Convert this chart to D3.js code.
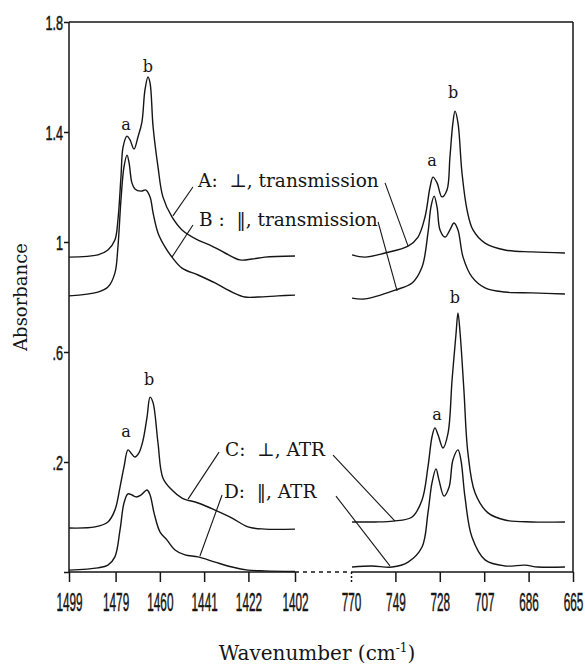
<!DOCTYPE html>
<html>
<head>
<meta charset="utf-8">
<script src="https://cdn.jsdelivr.net/npm/d3@7"></script>
<style>
  html, body { margin: 0; padding: 0; background: #fff; }
  svg { display: block; }
  text { white-space: pre; }
</style>
</head>
<body>
<svg id="chart" width="585" height="671"></svg>
<script>
// IR absorbance spectra, CH2 scissoring (left) and rocking (right) regions
const yTicks = [1.8, 1.4, 1.0, 0.6, 0.2, -0.2];
const yTickLabels = ["1.8", "1.4", "1", ".6", ".2", ""];
const leftTicks = [1499, 1479, 1460, 1441, 1422, 1402];
const rightTicks = [770, 749, 728, 707, 686, 665];

// [wavenumber, absorbance]
const specA_left = [[1499,0.945],[1486.6,0.953],[1482.3,0.971],[1479.3,1.007],[1478.0,1.08],[1476.7,1.236],[1475.8,1.345],[1474.1,1.385],[1472.8,1.371],[1471.1,1.338],[1469.4,1.382],[1467.7,1.436],[1466.4,1.553],[1465.1,1.6],[1464.2,1.578],[1462.9,1.418],[1460.8,1.273],[1458.7,1.164],[1454.8,1.091],[1450.5,1.044],[1443.6,1.007],[1438.5,0.989],[1432.0,0.96],[1425.6,0.935],[1420.5,0.938],[1414.9,0.945],[1402,0.949]];
const specB_left = [[1499,0.804],[1486.6,0.818],[1482.3,0.836],[1479.3,0.887],[1478.0,0.982],[1476.7,1.153],[1475.4,1.273],[1474.1,1.316],[1473.2,1.287],[1472.0,1.215],[1470.7,1.193],[1468.1,1.185],[1466.0,1.189],[1464.2,1.164],[1462.9,1.105],[1460.8,1.033],[1457.8,0.982],[1454.8,0.945],[1450.5,0.905],[1443.6,0.88],[1436.3,0.851],[1429.0,0.818],[1423.5,0.8],[1417.9,0.8],[1409.3,0.804],[1402,0.807]];
const specC_left = [[1499,-0.04],[1487.8,-0.036],[1482.3,-0.018],[1479.3,0.025],[1477.1,0.109],[1475.4,0.182],[1473.7,0.244],[1472.4,0.233],[1470.7,0.218],[1469.0,0.233],[1467.2,0.28],[1465.5,0.364],[1464.2,0.436],[1462.9,0.415],[1460.8,0.269],[1458.7,0.142],[1454.8,0.098],[1450.5,0.069],[1443.6,0.051],[1436.3,0.025],[1429.0,-0.004],[1422.2,-0.036],[1414.9,-0.044],[1402,-0.044]];
const specD_left = [[1499,-0.193],[1486.6,-0.185],[1482.3,-0.175],[1479.3,-0.145],[1477.1,-0.047],[1475.4,0.051],[1473.7,0.084],[1472.0,0.08],[1470.2,0.073],[1468.1,0.08],[1465.5,0.098],[1464.2,0.08],[1462.5,0.015],[1459.9,-0.055],[1456.9,-0.084],[1453.5,-0.12],[1449.2,-0.138],[1443.6,-0.145],[1436.3,-0.164],[1429.0,-0.182],[1422.2,-0.193],[1414.9,-0.196],[1402,-0.198]];

const specA_right = [[769.5,0.953],[763.4,0.945],[753.9,0.96],[743.0,0.985],[738.3,1.018],[735.0,1.091],[732.6,1.2],[731.2,1.236],[729.3,1.215],[727.0,1.164],[724.6,1.189],[723.2,1.309],[721.8,1.433],[720.8,1.476],[719.4,1.433],[717.5,1.251],[715.1,1.116],[712.3,1.044],[706.6,0.996],[697.2,0.971],[684.4,0.964],[668.8,0.96]];
const specB_right = [[769.5,0.796],[763.4,0.793],[749.2,0.825],[741.1,0.851],[736.4,0.909],[733.6,1.033],[732.2,1.127],[730.7,1.167],[729.3,1.127],[727.9,1.044],[725.5,1.018],[723.2,1.044],[721.3,1.069],[719.4,1.044],[717.0,0.945],[712.8,0.873],[706.6,0.833],[697.2,0.818],[684.4,0.815],[668.8,0.811]];
const specC_right = [[769.5,-0.018],[758.6,-0.018],[750.1,-0.015],[741.1,0.0],[736.4,0.062],[733.6,0.182],[731.7,0.291],[730.3,0.324],[728.8,0.298],[726.5,0.251],[724.1,0.305],[722.2,0.498],[720.3,0.669],[719.4,0.742],[718.4,0.669],[716.6,0.462],[714.7,0.233],[711.3,0.087],[705.2,0.015],[697.2,-0.011],[684.4,-0.018],[668.8,-0.018]];
const specD_right = [[769.5,-0.182],[760.1,-0.178],[750.6,-0.182],[743.0,-0.164],[736.4,-0.109],[733.6,0.015],[731.7,0.124],[729.8,0.175],[728.4,0.135],[726.0,0.076],[723.6,0.109],[721.8,0.207],[719.4,0.244],[718.0,0.207],[716.1,0.073],[712.8,-0.073],[706.6,-0.156],[697.2,-0.178],[687.7,-0.175],[681.6,-0.182],[668.8,-0.182]];

// peak markers: [panel, wavenumber, absorbance, letter, dx, dy]
const peakMarks = [
  ["L", 1474.1, 1.385, "a", -1, -6],
  ["L", 1465.1, 1.6,   "b",  0, -5],
  ["R", 731.2,  1.236, "a", -1, -11],
  ["R", 720.8,  1.476, "b", -2, -13],
  ["L", 1473.7, 0.244, "a", -2, -13],
  ["L", 1464.2, 0.436, "b", -1, -12],
  ["R", 730.3,  0.324, "a",  2, -8],
  ["R", 719.4,  0.742, "b", -3, -10]
];

// series captions: [text, panel, wavenumber, absorbance]
const captions = [
  ["A:  \u22A5, transmission", "L", 1443.6, 1.2],
  ["B :  \u2016, transmission", "L", 1443.2, 1.058],
  ["C:  \u22A5, ATR", "L", 1432.0, 0.222],
  ["D:  \u2016, ATR", "L", 1432.5, 0.069]
];

// leader lines: [panel, wn1, abs1, wn2, abs2]
const leaders = [
  ["L", 1445.8, 1.2,   1454.4, 1.095],
  ["R", 753.9,  1.215, 743.0,  0.985],
  ["L", 1445.8, 1.062, 1454.8, 0.945],
  ["R", 757.2,  1.073, 748.2,  0.822],
  ["L", 1434.6, 0.236, 1447.9, 0.065],
  ["R", 778.5,  0.225, 749.2, -0.015],
  ["L", 1433.3, 0.08,  1442.8, -0.142],
  ["R", 777.1,  0.076, 751.6, -0.178]
];

const svg = d3.select("#chart");
const ink = "#151515";

const xL = d3.scaleLinear().domain([1499, 1402]).range([69, 295]);
const xR = d3.scaleLinear().domain([770, 665]).range([351, 573]);
const y = d3.scaleLinear().domain([-0.2, 1.8]).range([572, 22]);
const xOf = p => (p === "L" ? xL : xR);

// frame
const frame = svg.append("g").attr("stroke", ink).attr("stroke-width", 1.5).attr("fill", "none");
frame.append("line").attr("x1", xL(1499)).attr("x2", xL(1499)).attr("y1", y(1.8)).attr("y2", y(-0.2));
frame.append("line").attr("x1", xL(1499)).attr("x2", xR(665)).attr("y1", y(1.8)).attr("y2", y(1.8));
frame.append("line").attr("x1", xR(665)).attr("x2", xR(665)).attr("y1", y(1.8)).attr("y2", y(-0.2));
frame.append("line").attr("x1", xL(1499)).attr("x2", xL(1402)).attr("y1", y(-0.2)).attr("y2", y(-0.2));
frame.append("line").attr("x1", xR(770)).attr("x2", xR(665)).attr("y1", y(-0.2)).attr("y2", y(-0.2));
frame.append("line").attr("x1", xL(1402)).attr("x2", xR(770)).attr("y1", y(-0.2)).attr("y2", y(-0.2))
  .attr("stroke-dasharray", "4,4");

// x axes
function styleXAxis(g) {
  g.select(".domain").remove();
  g.selectAll(".tick line").attr("stroke", ink).attr("stroke-width", 1.5);
  g.selectAll(".tick text")
    .attr("fill", ink)
    .attr("stroke", ink).attr("stroke-width", 0.5)
    .attr("font-family", "'Liberation Sans', Arial, sans-serif")
    .attr("font-size", 25)
    .attr("y", 39).attr("dy", 0)
    .attr("transform", "scale(0.47,1)");
}
svg.append("g").attr("transform", `translate(0,${y(-0.2)})`)
  .call(d3.axisBottom(xL).tickValues(leftTicks).tickSize(10).tickFormat(d3.format("d")))
  .call(styleXAxis);
const gxR = svg.append("g").attr("transform", `translate(0,${y(-0.2)})`)
  .call(d3.axisBottom(xR).tickValues(rightTicks).tickSize(10).tickFormat(d3.format("d")))
  .call(styleXAxis);
gxR.selectAll(".tick").filter(d => d === 770).select("line").attr("stroke-dasharray", "2,2");

// y axis
const gy = svg.append("g").attr("transform", `translate(${xL(1499)},0)`)
  .call(d3.axisLeft(y).tickValues(yTicks).tickSize(5).tickFormat((d, i) => yTickLabels[i]));
gy.select(".domain").remove();
gy.selectAll(".tick line").attr("stroke", ink).attr("stroke-width", 1.5);
gy.selectAll(".tick text")
  .attr("fill", ink)
  .attr("stroke", ink).attr("stroke-width", 0.5)
  .attr("font-family", "'Liberation Sans', Arial, sans-serif")
  .attr("font-size", 19.5)
  .attr("x", -9).attr("dy", "0.36em")
  .attr("transform", "scale(0.65,1)");

// spectra
const curve = d3.curveCatmullRom.alpha(0.5);
const lineL = d3.line().x(d => xL(d[0])).y(d => y(d[1])).curve(curve);
const lineR = d3.line().x(d => xR(d[0])).y(d => y(d[1])).curve(curve);
const plot = svg.append("g").attr("fill", "none").attr("stroke", ink).attr("stroke-width", 1.4)
  .attr("stroke-linejoin", "round");
[specA_left, specB_left, specC_left, specD_left].forEach(s => plot.append("path").attr("d", lineL(s)));
[specA_right, specB_right, specC_right, specD_right].forEach(s => plot.append("path").attr("d", lineR(s)));

// leader lines
svg.append("g").attr("stroke", ink).attr("stroke-width", 1.1)
  .selectAll("line").data(leaders).join("line")
  .attr("x1", d => xOf(d[0])(d[1])).attr("y1", d => y(d[2]))
  .attr("x2", d => xOf(d[0])(d[3])).attr("y2", d => y(d[4]));

// captions
svg.append("g").attr("font-family", "'DejaVu Serif', serif").attr("font-size", 18.5).attr("fill", ink)
  .selectAll("text").data(captions).join("text")
  .attr("x", d => xOf(d[1])(d[2])).attr("y", d => y(d[3]))
  .text(d => d[0]);

// peak letters
svg.append("g").attr("font-family", "'DejaVu Serif', serif").attr("font-size", 16).attr("fill", ink)
  .attr("text-anchor", "middle")
  .selectAll("text").data(peakMarks).join("text")
  .attr("x", d => xOf(d[0])(d[1]) + d[4]).attr("y", d => y(d[2]) + d[5])
  .text(d => d[3]);

// axis titles
svg.append("text")
  .attr("transform", `translate(27,${(y(1.8) + y(-0.2)) / 2}) rotate(-90)`)
  .attr("text-anchor", "middle")
  .attr("font-family", "'DejaVu Serif', serif").attr("font-size", 18).attr("fill", ink)
  .text("Absorbance");

const xt = svg.append("text")
  .attr("x", 317).attr("y", 660)
  .attr("text-anchor", "middle")
  .attr("font-family", "'DejaVu Serif', serif").attr("font-size", 20).attr("fill", ink);
xt.append("tspan").text("Wavenumber (cm");
xt.append("tspan").attr("font-size", 12).attr("dy", -8).text("-1");
xt.append("tspan").attr("dy", 8).text(")");
</script>
</body>
</html>
